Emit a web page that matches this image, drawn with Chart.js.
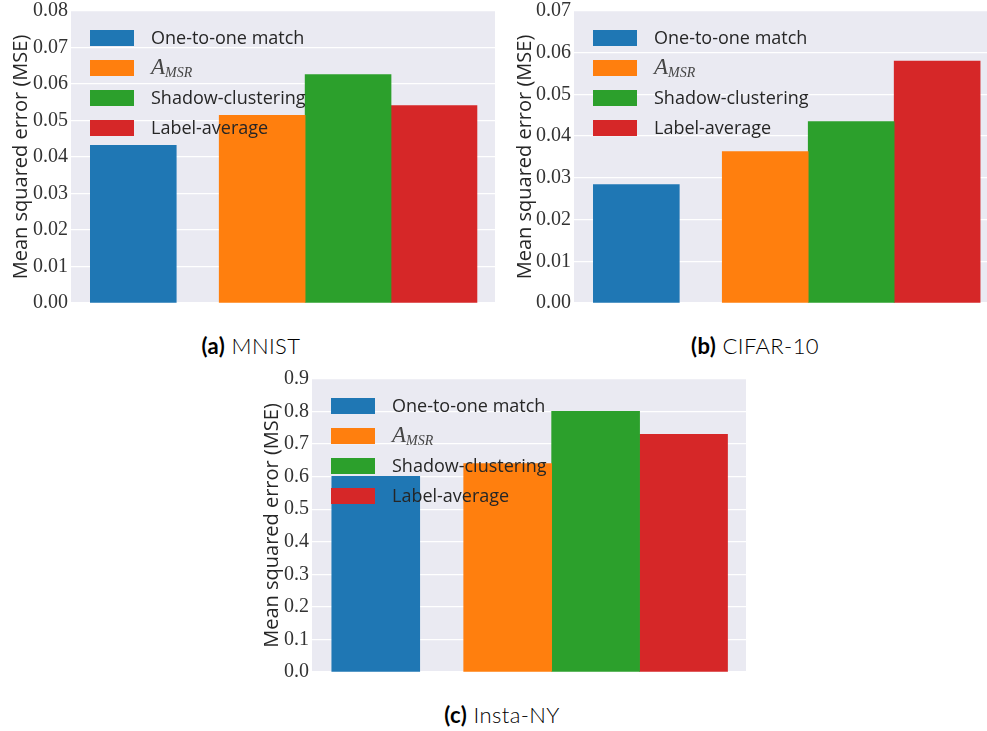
<!DOCTYPE html>
<html>
<head>
<meta charset="utf-8">
<script src="https://cdn.jsdelivr.net/npm/chart.js@4.4.1/dist/chart.umd.min.js"></script>
<style>
body { margin: 0; background: #fff; width: 987px; height: 731px; position: relative; overflow: hidden; }
canvas { position: absolute; }
.cap { position: absolute; font-family: Lato, sans-serif; font-weight: 300; font-size: 22px; letter-spacing: 0.4px; color: #000; transform: translateX(-50%); white-space: nowrap; line-height: 24px; }
.cap b { font-weight: 700; }
</style>
</head>
<body>
<canvas id="chartA" width="500" height="320" style="left:0;top:0"></canvas>
<canvas id="chartB" width="487" height="320" style="left:500px;top:0"></canvas>
<canvas id="chartC" width="520" height="330" style="left:240px;top:360px"></canvas>
<div class="cap" style="left:251px;top:334px"><b>(a)</b> MNIST</div>
<div class="cap" style="left:755px;top:334px"><b>(b)</b> CIFAR-10</div>
<div class="cap" style="left:502px;top:703px"><b>(c)</b> Insta-NY</div>
<script>
// data
const methods = ['One-to-one match', 'A_MSR', 'Shadow-clustering', 'Label-average'];
const barSlots = [0, 1.5, 2.5, 3.5];
const mnistMSE = [0.0432, 0.0514, 0.0626, 0.0541];
const cifarMSE = [0.0284, 0.0363, 0.0435, 0.0580];
const instaMSE = [0.601, 0.640, 0.801, 0.730];
const mnistTicks = [0, 0.01, 0.02, 0.03, 0.04, 0.05, 0.06, 0.07, 0.08];
const cifarTicks = [0, 0.01, 0.02, 0.03, 0.04, 0.05, 0.06, 0.07];
const instaTicks = [0, 0.1, 0.2, 0.3, 0.4, 0.5, 0.6, 0.7, 0.8, 0.9];

const palette = ['#1f77b4', '#ff7f0e', '#2ca02c', '#d62728'];

// seaborn style grey background
const plotBg = {
    id: 'plotBg',
    beforeDraw(chart) {
        const a = chart.chartArea;
        chart.ctx.save();
        chart.ctx.fillStyle = '#EAEAF2';
        chart.ctx.fillRect(a.left, a.top, a.right - a.left, a.bottom - a.top);
        chart.ctx.restore();
    }
};

// legend drawn on top of the bars, upper left
const legendInside = {
    id: 'legendInside',
    afterDatasetsDraw(chart) {
        const ctx = chart.ctx, a = chart.chartArea;
        const x0 = a.left + 19, y0 = a.top + 19;
        ctx.save();
        ctx.textBaseline = 'middle';
        chart.data.datasets.forEach((ds, i) => {
            const y = y0 + i * 30;
            ctx.fillStyle = ds.backgroundColor;
            ctx.fillRect(x0, y, 44, 16);
            ctx.fillStyle = '#262626';
            const tx = x0 + 61, ty = y + 9;
            if (ds.label.indexOf('_') > 0) {
                const parts = ds.label.split('_');
                ctx.fillStyle = '#444';
                ctx.font = 'italic 23px "Liberation Serif"';
                ctx.fillText(parts[0], tx, ty - 1);
                const w = ctx.measureText(parts[0]).width;
                ctx.font = 'italic 14px "Liberation Serif"';
                ctx.fillText(parts[1], tx + w, ty + 4);
            } else {
                ctx.font = '18px "Open Sans"';
                ctx.fillText(ds.label, tx, ty);
            }
        });
        ctx.restore();
    }
};

function makeChart(id, values, yTicks, decimals, xMax, pad, axisWidth, titlePad) {
    const ctx = document.getElementById(id).getContext('2d');
    return new Chart(ctx, {
        type: 'bar',
        data: {
            datasets: methods.map((m, i) => ({
                label: m,
                data: [{ x: barSlots[i], y: values[i] }],
                backgroundColor: palette[i],
                borderWidth: 0
            }))
        },
        options: {
            responsive: false,
            animation: false,
            layout: { padding: pad },
            datasets: { bar: { grouped: false, barPercentage: 1, categoryPercentage: 1 } },
            plugins: { legend: { display: false }, tooltip: { enabled: false } },
            scales: {
                x: {
                    type: 'linear',
                    min: -0.725,
                    max: xMax,
                    offset: false,
                    grid: { offset: false },
                    display: false,
                    afterBuildTicks: s => { s.ticks = [{ value: s.min }, { value: s.max }]; }
                },
                y: {
                    min: 0,
                    max: yTicks[yTicks.length - 1],
                    afterBuildTicks: s => { s.ticks = yTicks.map(v => ({ value: v })); },
                    afterFit: s => { s.width = axisWidth; },
                    border: { display: false },
                    grid: { color: '#ffffff', lineWidth: 1.3, drawTicks: false },
                    ticks: {
                        padding: 3,
                        color: '#333',
                        font: { family: '"Liberation Serif"', size: 20, lineHeight: 0.8 },
                        callback: v => v.toFixed(decimals)
                    },
                    title: {
                        display: true,
                        text: 'Mean squared error (MSE)',
                        color: '#262626',
                        font: { family: '"Open Sans"', size: 20 },
                        padding: { top: titlePad, bottom: 0 }
                    }
                }
            }
        },
        plugins: [plotBg, legendInside]
    });
}

makeChart('chartA', mnistMSE, mnistTicks, 2, 4.21, { top: 10, right: 5, bottom: 17, left: 0 }, 71, 9);
makeChart('chartB', cifarMSE, cifarTicks, 2, 4.08, { top: 10, right: 0, bottom: 17, left: 0 }, 74, 13);
makeChart('chartC', instaMSE, instaTicks, 1, 4.21, { top: 19, right: 14, bottom: 18, left: 0 }, 72, 20);
</script>
</body>
</html>
